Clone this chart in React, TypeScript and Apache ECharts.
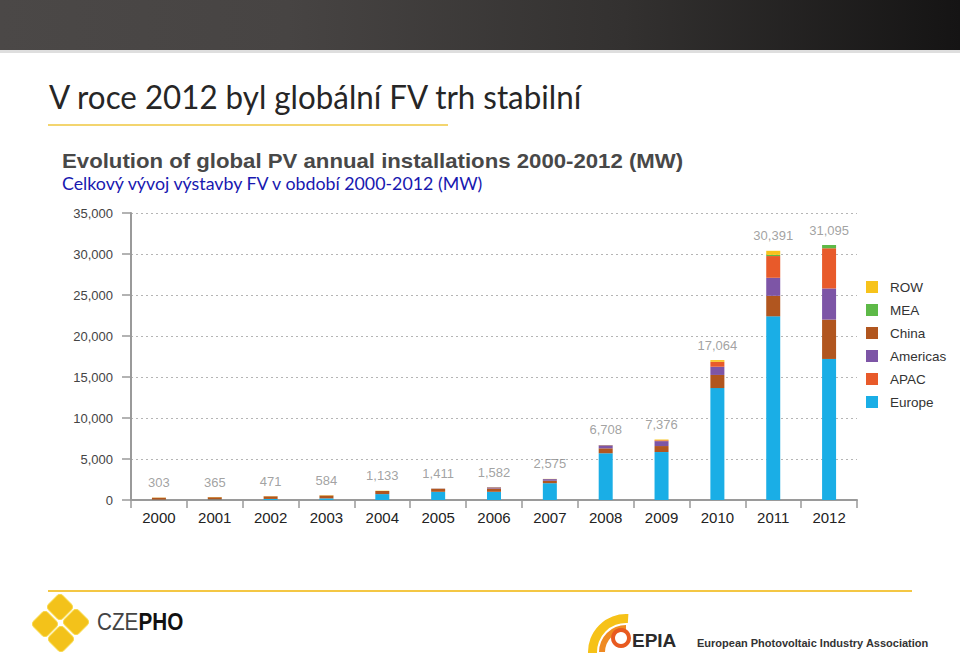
import React, { useEffect, useRef } from "react";
import * as echarts from "echarts";

const years = ["2000", "2001", "2002", "2003", "2004", "2005", "2006", "2007", "2008", "2009", "2010", "2011", "2012"];
const europe = [40, 60, 130, 200, 720, 1000, 1000, 2050, 5700, 5850, 13650, 22400, 17200];
const china = [240, 280, 320, 350, 380, 350, 400, 300, 600, 730, 1600, 2500, 4800];
const americas = [0, 0, 0, 0, 0, 40, 150, 200, 380, 600, 1000, 2200, 3800];
const apac = [0, 0, 0, 0, 0, 0, 0, 0, 0, 100, 600, 2650, 4900];
const mea = [0, 0, 0, 0, 0, 0, 0, 0, 0, 0, 0, 141, 395];
const row = [23, 25, 21, 34, 33, 21, 32, 25, 28, 96, 214, 500, 0];
const totals = [303, 365, 471, 584, 1133, 1411, 1582, 2575, 6708, 7376, 17064, 30391, 31095];
const legendOrder = ["ROW", "MEA", "China", "Americas", "APAC", "Europe"];

const COLORS: Record<string, string> = {
  Europe: "#1aaee6",
  China: "#b1561f",
  Americas: "#7d55a6",
  APAC: "#e85a2a",
  MEA: "#5db947",
  ROW: "#f7c31b",
};

const SANS = "'Liberation Sans', Arial, Helvetica, sans-serif";
const CAL = "Lato, 'Open Sans', sans-serif";

export default function App() {
  const ref = useRef<HTMLDivElement>(null);
  useEffect(() => {
    if (!ref.current) return;
    const chart = echarts.init(ref.current, undefined, { renderer: "svg" });
    const stackSeries = [
      ["Europe", europe],
      ["China", china],
      ["Americas", americas],
      ["APAC", apac],
      ["MEA", mea],
      ["ROW", row],
    ].map(([name, data]) => ({
      name: name as string,
      type: "bar",
      stack: "total",
      barWidth: 14,
      data: data as number[],
      itemStyle: { color: COLORS[name as string] },
    }));

    const fmt = (v: number) => v.toLocaleString("en-US");

    chart.setOption({
      animation: false,
      backgroundColor: "#ffffff",
      grid: { left: 131, right: 103, top: 213, bottom: 153, containLabel: false },
      legend: {
        orient: "vertical",
        left: 866,
        top: 280,
        padding: 0,
        itemWidth: 12,
        itemHeight: 12,
        itemGap: 9,
        icon: "rect",
        data: legendOrder,
        textStyle: { fontFamily: SANS, fontSize: 13.5, color: "#333", padding: [0, 0, 0, 7] },
      },
      xAxis: {
        type: "category",
        data: years,
        boundaryGap: true,
        axisLine: { lineStyle: { color: "#9a9a9a", width: 2 } },
        axisTick: { show: true, alignWithLabel: false, length: 8, lineStyle: { color: "#9a9a9a", width: 1.5 } },
        axisLabel: { fontFamily: SANS, fontSize: 15, color: "#222", margin: 10 },
      },
      yAxis: {
        type: "value",
        min: 0,
        max: 35000,
        interval: 5000,
        axisLine: { show: true, lineStyle: { color: "#9a9a9a", width: 2 } },
        axisTick: { show: true, length: 9, lineStyle: { color: "#9a9a9a", width: 1.5 } },
        axisLabel: { fontFamily: SANS, fontSize: 13, color: "#444", margin: 18, formatter: (v: number) => fmt(v) },
        splitLine: { show: true, lineStyle: { color: "#b5b5b5", type: [2, 3], width: 1 } },
      },
      series: [
        ...stackSeries,
        {
          name: "Total",
          type: "scatter",
          data: totals,
          symbol: "circle",
          symbolSize: 1,
          itemStyle: { color: "rgba(0,0,0,0)" },
          label: {
            show: true,
            position: "top",
            distance: 8,
            fontFamily: SANS,
            fontSize: 13,
            color: "#8a8a8a",
            formatter: (p: any) => fmt(p.value),
          },
          labelLayout: { hideOverlap: false },
          z: 5,
        },
      ],
      graphic: [
        {
          type: "rect",
          shape: { x: 0, y: 0, width: 960, height: 50 },
          style: {
            fill: new echarts.graphic.LinearGradient(0, 0, 1, 0, [
              { offset: 0, color: "#4b4847" },
              { offset: 0.3, color: "#474443" },
              { offset: 0.65, color: "#333130" },
              { offset: 1, color: "#151414" },
            ]),
          },
        },
        { type: "rect", shape: { x: 0, y: 50, width: 960, height: 3 }, style: { fill: "#c8c8c8", opacity: 0.6 } },
        {
          type: "text",
          x: 49,
          y: 96,
          scaleX: 0.95,
          style: { text: "V roce 2012 byl globální FV trh stabilní", fontFamily: CAL, fontSize: 33, fill: "#262626", verticalAlign: "middle" },
        },
        { type: "rect", shape: { x: 48, y: 124, width: 400, height: 2 }, style: { fill: "#f3d56f" } },
        {
          type: "text",
          x: 62,
          y: 161,
          scaleX: 1.11,
          style: {
            text: "Evolution of global PV annual installations 2000-2012 (MW)",
            fontFamily: SANS,
            fontWeight: "bold",
            fontSize: 20,
            fill: "#484848",
            verticalAlign: "middle",
          },
        },
        {
          type: "text",
          x: 62,
          y: 183,
          style: { text: "Celkový vývoj výstavby FV v období 2000-2012 (MW)", fontFamily: CAL, fontSize: 17.8, fill: "#1818b0", verticalAlign: "middle" },
        },
        { type: "rect", shape: { x: 48, y: 590, width: 864, height: 2 }, style: { fill: "#f4c744" } },
        // CZEPHO logo
        ...[
          [60, 607],
          [45, 624],
          [76, 622],
          [61, 639],
        ].map(([cx, cy]) => ({
          type: "rect",
          x: cx,
          y: cy,
          rotation: Math.PI / 4,
          shape: { x: -10, y: -10, width: 20, height: 20, r: 4 },
          style: { fill: "#f3c21a", stroke: "#f8d84a", lineWidth: 1 },
        })),
        {
          type: "text",
          x: 97,
          y: 622,
          scaleX: 0.9,
          style: {
            rich: {
              a: { fontFamily: SANS, fontSize: 23, fill: "#444", fontWeight: "normal" },
              b: { fontFamily: SANS, fontSize: 23, fill: "#111", fontWeight: "bold" },
            },
            text: "{a|CZE}{b|PHO}",
            verticalAlign: "middle",
          },
        },
        // EPIA logo
        {
          type: "sector",
          shape: { cx: 626, cy: 652, r0: 29, r: 38, startAngle: Math.PI * 0.98, endAngle: Math.PI * 1.52, clockwise: true },
          style: { fill: "#f6c218" },
        },
        {
          type: "sector",
          shape: { cx: 626, cy: 652, r0: 21, r: 27, startAngle: Math.PI * 1.0, endAngle: Math.PI * 1.5, clockwise: true },
          style: { fill: "#ef8a22" },
        },
        {
          type: "ring",
          shape: { cx: 621, cy: 638, r0: 6, r: 10 },
          style: { fill: "#e85a20" },
        },
        {
          type: "text",
          x: 632,
          y: 640,
          style: { text: "EPIA", fontFamily: SANS, fontWeight: "bold", fontSize: 19, fill: "#2b2b2b", verticalAlign: "middle" },
        },
        {
          type: "text",
          x: 697,
          y: 643,
          style: {
            text: "European Photovoltaic Industry Association",
            fontFamily: SANS,
            fontWeight: "bold",
            fontSize: 11,
            fill: "#333",
            verticalAlign: "middle",
          },
        },
      ],
    });
    return () => chart.dispose();
  }, []);
  return <div ref={ref} style={{ position: "fixed", left: 0, top: 0, width: 960, height: 653 }} />;
}
